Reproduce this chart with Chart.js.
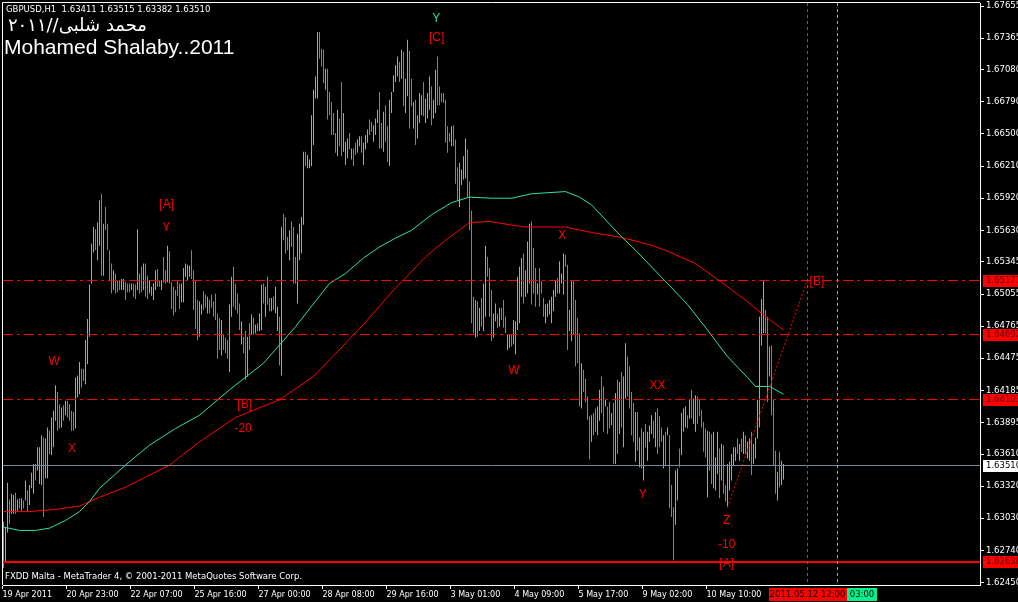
<!DOCTYPE html>
<html>
<head>
<meta charset="utf-8">
<title>GBPUSD,H1</title>
<script src="https://cdn.jsdelivr.net/npm/chart.js@4.4.1/dist/chart.umd.min.js"></script>
<style>
  html, body { margin: 0; padding: 0; background: #000; }
  #chart { display: block; }
</style>
</head>
<body>
<canvas id="chart" width="1018" height="602"></canvas>
<script>
// GBPUSD H1 bars, bar 0 = 19 Apr 2011
const highs = [
  1.6300,1.6295,1.6335,1.6320,1.6325,1.6324,1.6326,1.6320,1.6321,1.6321,
  1.6319,1.6337,1.6328,1.6333,1.6344,1.6352,1.6352,1.6367,1.6367,1.6378,
  1.6376,1.6375,1.6385,1.6382,1.6394,1.6400,1.6423,1.6417,1.6406,1.6403,
  1.6405,1.6409,1.6409,1.6406,1.6400,1.6399,1.6430,1.6432,1.6444,1.6438,
  1.6438,1.6464,1.6483,1.6514,1.6551,1.6566,1.6564,1.6570,1.6590,1.6596,
  1.6569,1.6584,1.6569,1.6545,1.6533,1.6527,1.6524,1.6518,1.6518,1.6519,
  1.6519,1.6516,1.6515,1.6515,1.6515,1.6515,1.6514,1.6564,1.6524,1.6530,
  1.6533,1.6533,1.6522,1.6518,1.6512,1.6515,1.6527,1.6528,1.6518,1.6518,
  1.6539,1.6527,1.6549,1.6544,1.6516,1.6512,1.6509,1.6518,1.6515,1.6515,
  1.6529,1.6533,1.6532,1.6531,1.6545,1.6527,1.6518,1.6500,1.6499,1.6496,
  1.6508,1.6505,1.6503,1.6500,1.6505,1.6499,1.6506,1.6488,1.6484,1.6482,
  1.6469,1.6466,1.6464,1.6496,1.6521,1.6530,1.6515,1.6506,1.6497,1.6481,
  1.6467,1.6472,1.6467,1.6479,1.6487,1.6484,1.6478,1.6479,1.6488,1.6514,
  1.6515,1.6512,1.6521,1.6502,1.6502,1.6503,1.6512,1.6494,1.6485,1.6566,
  1.6578,1.6575,1.6557,1.6563,1.6571,1.6566,1.6539,1.6560,1.6569,1.6575,
  1.6634,1.6634,1.6631,1.6627,1.6667,1.6690,1.6702,1.6742,1.6742,1.6727,
  1.6726,1.6709,1.6709,1.6688,1.6679,1.6669,1.6651,1.6672,1.6664,1.6697,
  1.6669,1.6643,1.6646,1.6651,1.6637,1.6637,1.6642,1.6645,1.6648,1.6648,
  1.6642,1.6649,1.6654,1.6663,1.6661,1.6658,1.6664,1.6672,1.6688,1.6660,
  1.6670,1.6676,1.6657,1.6681,1.6688,1.6703,1.6712,1.6720,1.6715,1.6726,
  1.6724,1.6700,1.6735,1.6725,1.6700,1.6679,1.6681,1.6667,1.6687,1.6685,
  1.6697,1.6682,1.6687,1.6702,1.6693,1.6681,1.6708,1.6720,1.6693,1.6687,
  1.6687,1.6681,1.6657,1.6651,1.6657,1.6658,1.6645,1.6620,1.6624,1.6618,
  1.6630,1.6646,1.6636,1.6607,1.6581,1.6503,1.6500,1.6499,1.6493,1.6502,
  1.6515,1.6549,1.6539,1.6529,1.6509,1.6488,1.6497,1.6488,1.6493,1.6493,
  1.6500,1.6485,1.6469,1.6469,1.6469,1.6482,1.6481,1.6521,1.6530,1.6538,
  1.6542,1.6527,1.6553,1.6569,1.6571,1.6547,1.6529,1.6515,1.6529,1.6517,
  1.6502,1.6496,1.6497,1.6500,1.6503,1.6509,1.6518,1.6520,1.6535,1.6524,
  1.6542,1.6541,1.6532,1.6491,1.6517,1.6517,1.6500,1.6484,1.6470,1.6443,
  1.6437,1.6429,1.6413,1.6395,1.6396,1.6398,1.6402,1.6404,1.6419,1.6431,
  1.6422,1.6411,1.6404,1.6408,1.6398,1.6407,1.6416,1.6428,1.6426,1.6435,
  1.6431,1.6461,1.6449,1.6440,1.6417,1.6407,1.6399,1.6399,1.6376,1.6384,
  1.6381,1.6388,1.6381,1.6387,1.6396,1.6391,1.6399,1.6402,1.6395,1.6385,
  1.6378,1.6381,1.6385,1.6378,1.6333,1.6313,1.6346,1.6348,1.6366,1.6398,
  1.6402,1.6404,1.6396,1.6410,1.6419,1.6411,1.6414,1.6413,1.6411,1.6401,
  1.6390,1.6384,1.6382,1.6381,1.6379,1.6381,1.6358,1.6381,1.6366,1.6370,
  1.6369,1.6333,1.6352,1.6354,1.6361,1.6367,1.6367,1.6375,1.6370,1.6375,
  1.6381,1.6378,1.6372,1.6375,1.6381,1.6370,1.6376,1.6410,1.6485,1.6501,
  1.6518,1.6491,1.6485,1.6458,1.6459,1.6410,1.6364,1.6345,1.6363,1.6355,1.6352
];
const lows = [
  1.6258,1.6264,1.6290,1.6298,1.6307,1.6307,1.6307,1.6309,1.6312,1.6310,
  1.6312,1.6319,1.6309,1.6315,1.6330,1.6325,1.6337,1.6346,1.6334,1.6333,
  1.6304,1.6339,1.6339,1.6361,1.6360,1.6367,1.6391,1.6382,1.6384,1.6385,
  1.6391,1.6396,1.6394,1.6391,1.6382,1.6382,1.6384,1.6412,1.6415,1.6421,
  1.6427,1.6424,1.6442,1.6467,1.6515,1.6543,1.6545,1.6536,1.6549,1.6522,
  1.6522,1.6563,1.6545,1.6518,1.6506,1.6509,1.6506,1.6507,1.6509,1.6509,
  1.6509,1.6500,1.6507,1.6507,1.6509,1.6503,1.6501,1.6509,1.6506,1.6507,
  1.6509,1.6503,1.6501,1.6506,1.6504,1.6500,1.6509,1.6512,1.6512,1.6509,
  1.6516,1.6515,1.6516,1.6515,1.6492,1.6486,1.6489,1.6504,1.6492,1.6498,
  1.6498,1.6521,1.6518,1.6521,1.6519,1.6491,1.6474,1.6464,1.6467,1.6487,
  1.6491,1.6493,1.6488,1.6488,1.6493,1.6485,1.6482,1.6447,1.6455,1.6450,
  1.6455,1.6452,1.6447,1.6435,1.6485,1.6494,1.6491,1.6488,1.6473,1.6460,
  1.6452,1.6428,1.6431,1.6455,1.6469,1.6469,1.6470,1.6472,1.6472,1.6473,
  1.6497,1.6485,1.6496,1.6490,1.6490,1.6491,1.6488,1.6472,1.6441,1.6432,
  1.6554,1.6542,1.6545,1.6536,1.6548,1.6515,1.6515,1.6497,1.6536,1.6542,
  1.6568,1.6621,1.6619,1.6619,1.6621,1.6640,1.6682,1.6682,1.6718,1.6711,
  1.6696,1.6690,1.6663,1.6667,1.6649,1.6649,1.6633,1.6630,1.6639,1.6630,
  1.6634,1.6622,1.6628,1.6636,1.6627,1.6621,1.6631,1.6633,1.6639,1.6633,
  1.6622,1.6636,1.6642,1.6649,1.6652,1.6643,1.6649,1.6660,1.6637,1.6637,
  1.6634,1.6643,1.6625,1.6621,1.6669,1.6688,1.6697,1.6702,1.6697,1.6700,
  1.6675,1.6669,1.6684,1.6655,1.6675,1.6655,1.6640,1.6646,1.6660,1.6667,
  1.6666,1.6660,1.6664,1.6672,1.6658,1.6664,1.6669,1.6676,1.6676,1.6679,
  1.6678,1.6642,1.6633,1.6643,1.6639,1.6639,1.6605,1.6590,1.6584,1.6604,
  1.6609,1.6610,1.6593,1.6563,1.6479,1.6470,1.6466,1.6467,1.6472,1.6476,
  1.6472,1.6485,1.6521,1.6485,1.6463,1.6466,1.6481,1.6475,1.6476,1.6482,
  1.6475,1.6470,1.6455,1.6457,1.6458,1.6460,1.6451,1.6473,1.6479,1.6503,
  1.6497,1.6503,1.6506,1.6515,1.6496,1.6506,1.6494,1.6505,1.6494,1.6506,
  1.6485,1.6479,1.6485,1.6487,1.6479,1.6490,1.6503,1.6506,1.6506,1.6515,
  1.6505,1.6530,1.6455,1.6472,1.6463,1.6469,1.6440,1.6443,1.6404,1.6402,
  1.6417,1.6408,1.6392,1.6356,1.6372,1.6378,1.6381,1.6378,1.6391,1.6398,
  1.6381,1.6404,1.6379,1.6384,1.6387,1.6352,1.6352,1.6361,1.6379,1.6385,
  1.6367,1.6411,1.6413,1.6402,1.6378,1.6372,1.6354,1.6364,1.6349,1.6348,
  1.6337,1.6367,1.6355,1.6372,1.6379,1.6375,1.6367,1.6361,1.6367,1.6372,
  1.6348,1.6351,1.6378,1.6312,1.6304,1.6265,1.6297,1.6319,1.6349,1.6360,
  1.6381,1.6385,1.6384,1.6393,1.6393,1.6388,1.6381,1.6388,1.6395,1.6385,
  1.6363,1.6358,1.6322,1.6346,1.6334,1.6330,1.6328,1.6343,1.6321,1.6337,
  1.6325,1.6318,1.6313,1.6328,1.6337,1.6351,1.6355,1.6361,1.6355,1.6363,
  1.6361,1.6361,1.6357,1.6355,1.6342,1.6352,1.6357,1.6375,1.6385,1.6459,
  1.6470,1.6470,1.6408,1.6431,1.6396,1.6351,1.6325,1.6319,1.6331,1.6333,1.6338
];
// u = bull bar, d = bear bar
const direction = [
  'duuduududu','duduuuduuu','duuduuuddu','dudddduuud','duuuuuduud',
  'uddddudddu','uddduddudd','udduuuuddu','dduddddddu','uuuudddduu',
  'dduddddddu','ddduuddddu','ddudududuu','dudduduudu','ddduddduuu',
  'uduuuuuudd','dudddddudd','uuududduud','uuudduuudd','udduuuuudu',
  'duudduduuu','duuuduuddd','dddduddduu','uuddddudud','uuddduudud',
  'dduuduuuuu','duuudddudd','duuuuuuduu','udduuddddu','ddddudduud',
  'duddududud','uuddddudud','uduuududdd','ududdduudu','uududuuddd',
  'ddudduuudu','dduuuuudud','uduuduuuuu','udduddduduu'
].join('').split('');

// moving averages, sampled along the drawn lines
const maGreenIdx = [0, 8, 16, 23, 31, 38, 43, 48, 61, 73, 86, 98, 113, 130, 146, 163, 171, 180, 188, 196,
  204, 214, 224, 233, 244, 254, 264, 281, 288, 294, 308, 316, 332, 342, 352, 362, 372, 376, 383, 390];
const maGreenVal = [1.6295, 1.6292, 1.6292, 1.6294, 1.6301, 1.6309, 1.6318, 1.6330, 1.6351, 1.6369, 1.6384, 1.6396,
  1.6419, 1.6443, 1.6476, 1.6515, 1.6524, 1.6538, 1.6548, 1.6556, 1.6563, 1.6577, 1.6588, 1.6593, 1.6592,
  1.6592, 1.6596, 1.6598, 1.6593, 1.6586, 1.6559, 1.6545, 1.6515, 1.6496, 1.6473, 1.6449, 1.6430, 1.6422,
  1.6422, 1.6415];
const maRedIdx = [0, 13, 26, 38, 43, 48, 61, 73, 83, 98, 116, 138, 155, 163, 180, 196, 201, 211, 221, 233,
  243, 253, 261, 281, 294, 308, 323, 331, 346, 359, 371, 379, 390];
const maRedVal = [1.6309, 1.6309, 1.6311, 1.6314, 1.6318, 1.6322, 1.6331, 1.6342, 1.6351, 1.6372, 1.6394,
  1.6410, 1.6431, 1.6446, 1.6478, 1.6511, 1.6520, 1.6539, 1.6554, 1.6570, 1.6571, 1.6568, 1.6566, 1.6566,
  1.6561, 1.6557, 1.6550, 1.6545, 1.6533, 1.6516, 1.6500, 1.6488, 1.6473];

const timeTickIdx = [-0.5, 31.5, 63.5, 95.5, 127.5, 159.5, 191.5, 223.5, 255.5, 287.5, 319.5, 351.5];
const timeLabels = ['19 Apr 2011', '20 Apr 23:00', '22 Apr 07:00', '25 Apr 16:00', '27 Apr 00:00', '28 Apr 08:00',
  '29 Apr 16:00', '3 May 01:00', '4 May 09:00', '5 May 17:00', '9 May 02:00', '10 May 10:00'];
const priceTicks = [1.67655, 1.67365, 1.67080, 1.66790, 1.66500, 1.66210, 1.65920, 1.65630, 1.65345, 1.65055,
  1.64765, 1.64475, 1.64185, 1.63895, 1.63610, 1.63320, 1.63030, 1.62740, 1.62450];

const symbol = 'GBPUSD,H1';
const lastQuote = [1.63411, 1.63515, 1.63382, 1.63510];
const levelPrices = [1.65177, 1.64692, 1.64103];
const supportPrice = 1.62638;
const markerIdx = [402, 417];
const markerText = ['2011.05.12 12:00', '03:00'];
const trendIdx = [362, 401.5];
const trendPrice = [1.6313, 1.6516];

const waveText = ['Y', '[C]', '[A]', 'Y', 'W', 'X', '[B]', '-20', 'X', 'W', 'XX', 'Y', 'Z', '-10', '[A]', '[B]'];
const waveIdx = [216.4, 216.6, 81.6, 81.4, 25.3, 34.3, 120.6, 119.8, 279.4, 255.2, 327, 319.6, 361.6, 361.6, 361.6, 406.7];
const wavePrice = [1.67541, 1.67367, 1.65862, 1.65657, 1.64448, 1.63656, 1.64056, 1.63836, 1.65579, 1.64364,
  1.64229, 1.6324, 1.63005, 1.62791, 1.62622, 1.6517];

const UP = '#2fe39c';
const DOWN = '#e8612c';
const RED = '#ff0000';
const TICK_FONT = '8.5px "DejaVu Sans"';

const mt4Look = {
  id: 'mt4Look',
  beforeDraw(chart) {
    const ctx = chart.ctx;
    ctx.save();
    ctx.fillStyle = '#000';
    ctx.fillRect(0, 0, chart.width, chart.height);
    ctx.restore();
  },
  afterDatasetsDraw(chart) {
    const { ctx, chartArea: a, scales: { x, y } } = chart;
    const py = v => Math.floor(y.getPixelForValue(v)) + 0.5;
    const px = v => Math.floor(x.getPixelForValue(v)) + 0.5;
    const hline = (yy) => { ctx.beginPath(); ctx.moveTo(a.left, yy); ctx.lineTo(a.right, yy); ctx.stroke(); };
    ctx.save();
    ctx.beginPath();
    ctx.rect(a.left, a.top, a.right - a.left, a.bottom - a.top);
    ctx.clip();

    ctx.lineWidth = 1;
    ctx.strokeStyle = '#778899';
    hline(py(lastQuote[3]));

    ctx.strokeStyle = RED;
    ctx.setLineDash([10, 4, 3, 4]);
    levelPrices.forEach(p => hline(py(p)));

    ctx.setLineDash([]);
    ctx.lineWidth = 2;
    hline(Math.round(y.getPixelForValue(supportPrice)));

    ctx.lineWidth = 1;
    ctx.setLineDash([3, 3]);
    ['#ff2020', UP].forEach((c, k) => {
      ctx.strokeStyle = c;
      ctx.beginPath();
      ctx.moveTo(px(markerIdx[k]), a.top);
      ctx.lineTo(px(markerIdx[k]), a.bottom);
      ctx.stroke();
    });
    ctx.restore();
  },
  afterDraw(chart) {
    const { ctx, chartArea: a, scales: { x, y } } = chart;
    ctx.save();

    // frame on the left and top
    ctx.strokeStyle = '#fff';
    ctx.lineWidth = 1;
    ctx.beginPath();
    ctx.moveTo(a.left - 0.5, a.bottom);
    ctx.lineTo(a.left - 0.5, a.top - 0.5);
    ctx.lineTo(a.right, a.top - 0.5);
    ctx.stroke();

    // wave labels
    ctx.font = '12px "Liberation Sans"';
    ctx.textAlign = 'center';
    ctx.textBaseline = 'middle';
    waveText.forEach((t, k) => {
      ctx.fillStyle = k === 0 ? UP : RED;
      ctx.fillText(t, x.getPixelForValue(waveIdx[k]), y.getPixelForValue(wavePrice[k]));
    });

    // header texts
    ctx.fillStyle = '#fff';
    ctx.textAlign = 'left';
    ctx.font = TICK_FONT;
    ctx.fillText(symbol + '  ' + lastQuote.map(v => v.toFixed(5)).join(' '), 6, 10);
    ctx.textBaseline = 'alphabetic';
    ctx.font = '21px "Liberation Sans"';
    ctx.fillText('Mohamed Shalaby..2011', 4, 54);
    ctx.font = '18px "DejaVu Sans"';
    ctx.direction = 'rtl';
    ctx.textAlign = 'right';
    ctx.fillText('محمد شلبى//٢٠١١', 147, 31);
    ctx.direction = 'ltr';
    ctx.textAlign = 'left';
    ctx.textBaseline = 'middle';
    ctx.font = TICK_FONT;
    ctx.fillText('FXDD Malta - MetaTrader 4, © 2001-2011 MetaQuotes Software Corp.', 5, 577);

    // price boxes on the right scale
    const priceBox = (p, bg, fg) => {
      const cy = Math.floor(y.getPixelForValue(p));
      ctx.fillStyle = bg;
      ctx.fillRect(a.right + 3, cy - 5, chart.width - a.right - 3, 12);
      ctx.fillStyle = fg;
      ctx.fillText(p.toFixed(5), a.right + 6, cy + 1);
    };
    levelPrices.forEach(p => priceBox(p, RED, '#5a0000'));
    priceBox(supportPrice, RED, '#5a0000');
    priceBox(lastQuote[3], '#fff', '#000');

    // time boxes under the axis
    ctx.textAlign = 'center';
    const rx = x.getPixelForValue(markerIdx[0]);
    const redW = 78;
    ctx.fillStyle = RED;
    ctx.fillRect(Math.round(rx - redW / 2), a.bottom + 3, redW, 13);
    ctx.fillStyle = '#000';
    ctx.fillText(markerText[0], rx, a.bottom + 10);
    const gx = Math.round(rx + redW / 2);
    ctx.fillStyle = '#00f08c';
    ctx.fillRect(gx, a.bottom + 3, 30, 13);
    ctx.fillStyle = '#000';
    ctx.fillText(markerText[1], gx + 15, a.bottom + 10);
    ctx.restore();
  }
};

new Chart(document.getElementById('chart'), {
  type: 'bar',
  data: {
    datasets: [
      {
        type: 'line',
        data: maGreenIdx.map((v, k) => ({ x: v, y: maGreenVal[k] })),
        borderColor: UP,
        borderWidth: 1,
        pointRadius: 0,
        order: 1
      },
      {
        type: 'line',
        data: maRedIdx.map((v, k) => ({ x: v, y: maRedVal[k] })),
        borderColor: RED,
        borderWidth: 1,
        pointRadius: 0,
        order: 1
      },
      {
        type: 'line',
        data: trendIdx.map((v, k) => ({ x: v, y: trendPrice[k] })),
        borderColor: RED,
        borderWidth: 1,
        borderDash: [2, 2],
        pointRadius: 0,
        order: 0
      },
      {
        data: highs.map((h, i) => ({ x: i, y: [lows[i], h] })),
        backgroundColor: direction.map(d => d === 'u' ? UP : DOWN),
        borderWidth: 0,
        barThickness: 1,
        inflateAmount: 0,
        order: 2
      }
    ]
  },
  options: {
    responsive: false,
    animation: false,
    layout: { padding: { left: 3, top: 3, right: 0, bottom: 0 } },
    plugins: { legend: { display: false }, tooltip: { enabled: false } },
    scales: {
      x: {
        type: 'linear',
        min: -0.25,
        max: 488.25,
        offset: false,
        grid: { drawOnChartArea: false, drawTicks: true, tickLength: 4, color: '#fff', offset: false },
        border: { display: true, color: '#fff' },
        ticks: {
          color: '#fff',
          font: { family: 'DejaVu Sans', size: 8 },
          padding: 1,
          align: 'start',
          autoSkip: false,
          maxRotation: 0,
          minRotation: 0,
          callback: (v, i) => timeLabels[i]
        },
        afterBuildTicks: s => { s.ticks = timeTickIdx.map(v => ({ value: v })); },
        afterFit: s => { s.height = 17; s.paddingLeft = 0; s.paddingRight = 0; }
      },
      y: {
        position: 'right',
        min: 1.62427,
        max: 1.67683,
        grid: { drawOnChartArea: false, drawTicks: true, tickLength: 4, color: '#fff' },
        border: { display: true, color: '#fff' },
        ticks: {
          color: '#fff',
          font: { family: 'DejaVu Sans', size: 8.5 },
          padding: 2,
          autoSkip: false,
          callback: v => v.toFixed(5)
        },
        afterBuildTicks: s => { s.ticks = priceTicks.map(v => ({ value: v })); },
        afterFit: s => { s.width = 38; s.paddingTop = 0; s.paddingBottom = 0; }
      }
    }
  },
  plugins: [mt4Look]
});
</script>
</body>
</html>
